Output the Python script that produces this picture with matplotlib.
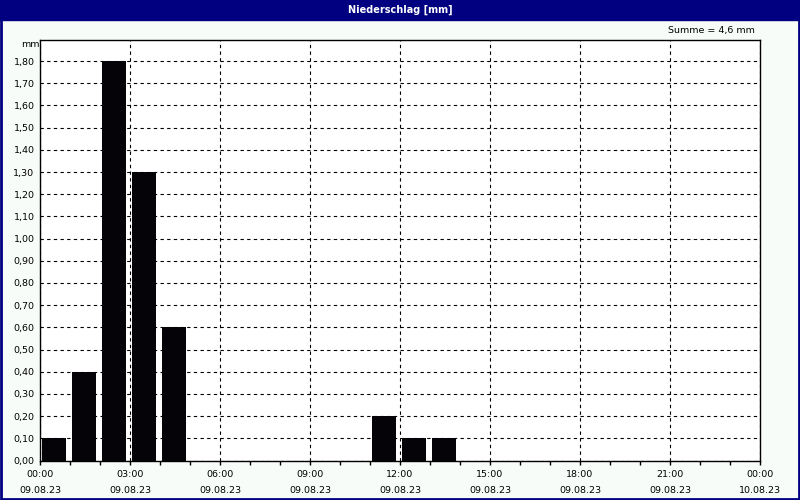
import matplotlib.pyplot as plt
from matplotlib.ticker import MultipleLocator, FuncFormatter
from matplotlib.patches import Rectangle

# hourly precipitation, 09.08.23
hours = [0, 1, 2, 3, 4, 11, 12, 13]
rain_mm = [0.1, 0.4, 1.8, 1.3, 0.6, 0.2, 0.1, 0.1]
x_ticks = [0, 3, 6, 9, 12, 15, 18, 21, 24]
x_labels = ["00:00\n09.08.23", "03:00\n09.08.23", "06:00\n09.08.23",
            "09:00\n09.08.23", "12:00\n09.08.23", "15:00\n09.08.23",
            "18:00\n09.08.23", "21:00\n09.08.23", "00:00\n10.08.23"]
title = "Niederschlag [mm]"
total = sum(rain_mm)

fig = plt.figure(figsize=(8, 5), dpi=100, facecolor="#f8fcf8")
ax = fig.add_axes([0.05, 0.079, 0.9, 0.841])

ax.bar([h + 0.07 for h in hours], rain_mm, width=0.8, align="edge",
       color="#050308", zorder=3)

ax.set_xlim(0, 24)
ax.set_ylim(0, 1.895)
ax.set_xticks(x_ticks)
ax.set_xticklabels(x_labels, linespacing=2.0)
ax.xaxis.set_minor_locator(MultipleLocator(1))
ax.yaxis.set_major_locator(MultipleLocator(0.1))
ax.yaxis.set_major_formatter(FuncFormatter(lambda v, p: f"{v:.2f}".replace(".", ",")))
ax.tick_params(axis="both", which="both", labelsize=6.8, colors="black",
               direction="out", length=3, width=1)
ax.tick_params(axis="x", which="major", pad=4)
ax.tick_params(axis="y", length=0, pad=4)

ax.grid(True, color="black", linestyle=(0, (3, 3)), linewidth=0.8, zorder=1)
for s in ax.spines.values():
    s.set_color("black")
    s.set_linewidth(1)
ax.set_facecolor("white")

# title bar and frame
fig.patches.append(Rectangle((0, 0.96), 1, 0.04, transform=fig.transFigure,
                             color="#000080", zorder=0))
fig.patches.append(Rectangle((0.001, 0.002), 0.998, 0.996, transform=fig.transFigure,
                             fill=False, edgecolor="#000080", linewidth=2, zorder=0))
fig.text(0.5, 0.98, title, color="white", fontsize=7, fontweight="bold",
         ha="center", va="center")
fig.text(0.944, 0.938, "Summe = " + f"{total:.1f}".replace(".", ",") + " mm",
         fontsize=6.8, ha="right", va="center")
fig.text(0.027, 0.911, "mm", fontsize=6.8, ha="left", va="center")

fig.savefig("out.png", dpi=100, facecolor=fig.get_facecolor())
